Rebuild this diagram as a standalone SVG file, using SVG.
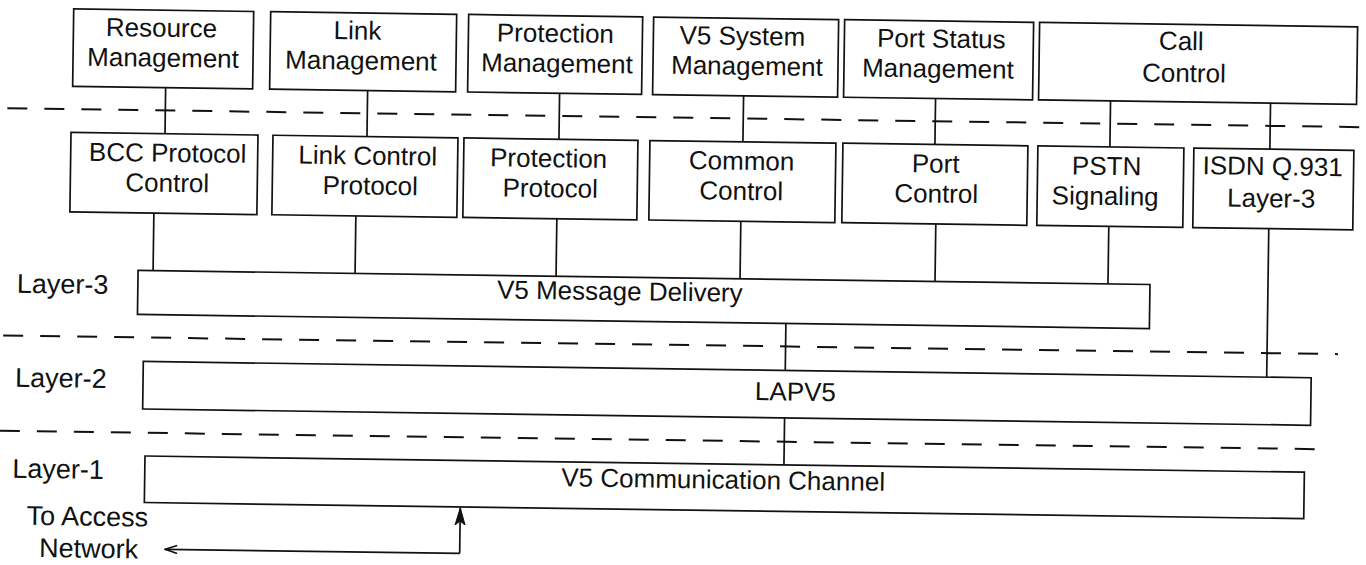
<svg xmlns="http://www.w3.org/2000/svg" width="1366" height="565" viewBox="0 0 1366 565">
  <defs>
    <style>
      .box { fill: #fff; stroke: #111; stroke-width: 1.7; }
      .lbl { font-family: "Liberation Sans", Arial, sans-serif; font-size: 26px; fill: #111; text-anchor: middle; }
      .side { font-family: "Liberation Sans", Arial, sans-serif; font-size: 27px; fill: #111; }
      .wire { stroke: #111; stroke-width: 1.7; fill: none; }
      .sep { stroke: #111; stroke-width: 2; stroke-dasharray: 20 17; fill: none; }
    </style>
    <marker id="arrow" viewBox="0 0 14 10" refX="13" refY="5" markerWidth="14" markerHeight="10" markerUnits="userSpaceOnUse" orient="auto">
      <path d="M1,1 L13,5 L1,9" fill="none" stroke="#111" stroke-width="1.7"/>
    </marker>
    <marker id="arrow-solid" viewBox="0 0 18 12" refX="17" refY="6" markerWidth="18" markerHeight="12" markerUnits="userSpaceOnUse" orient="auto">
      <path d="M0,1 L17,6 L0,11 L4,6 Z" fill="#111" stroke="#111" stroke-width="1"/>
    </marker>
  </defs>
  <rect width="1366" height="565" fill="#fff"/>

  <g transform="rotate(0.8 683 280)">
    <!-- layer separators -->
    <g id="separators">
      <line class="sep" x1="5" y1="117.7" x2="1366" y2="117.7"/>
      <line class="sep" x1="4" y1="345" x2="1339" y2="345"/>
      <line class="sep" x1="2" y1="440.3" x2="1334" y2="440.3"/>
    </g>

    <!-- connectors -->
    <g id="connectors">
      <line class="wire" x1="163" y1="95" x2="163" y2="141"/>
      <line class="wire" x1="365" y1="95" x2="365" y2="141"/>
      <line class="wire" x1="557" y1="95" x2="557" y2="141"/>
      <line class="wire" x1="741" y1="95" x2="741" y2="141"/>
      <line class="wire" x1="933" y1="95" x2="933" y2="141"/>
      <line class="wire" x1="1108" y1="95" x2="1108" y2="141"/>
      <line class="wire" x1="1268" y1="95" x2="1268" y2="141"/>

      <line class="wire" x1="153" y1="220.5" x2="153" y2="278"/>
      <line class="wire" x1="355" y1="220.5" x2="355" y2="278"/>
      <line class="wire" x1="556" y1="220.5" x2="556" y2="278"/>
      <line class="wire" x1="740" y1="220.5" x2="740" y2="278"/>
      <line class="wire" x1="935" y1="220.5" x2="935" y2="278"/>
      <line class="wire" x1="1108" y1="220.5" x2="1108" y2="278"/>
      <line class="wire" x1="1268" y1="220.5" x2="1268" y2="369"/>

      <line class="wire" x1="786.5" y1="322" x2="786.5" y2="369"/>
      <line class="wire" x1="786.5" y1="416.5" x2="786.5" y2="463.5"/>

      <polyline class="wire" points="463.5,556.5 463.5,511" marker-end="url(#arrow-solid)"/>
      <polyline class="wire" points="463.5,556.5 169,556.5" marker-end="url(#arrow)"/>
    </g>

    <!-- management functions -->
    <g id="resource-management">
      <rect class="box" x="70" y="17.5" width="180" height="77.5"/>
      <text class="lbl" x="158" y="44">Resource</text>
      <text class="lbl" x="160" y="74">Management</text>
    </g>
    <g id="link-management">
      <rect class="box" x="267" y="17.5" width="186" height="77.5"/>
      <text class="lbl" x="354" y="44">Link</text>
      <text class="lbl" x="358" y="74">Management</text>
    </g>
    <g id="protection-management">
      <rect class="box" x="465" y="17.5" width="174" height="77.5"/>
      <text class="lbl" x="552" y="44">Protection</text>
      <text class="lbl" x="554" y="74">Management</text>
    </g>
    <g id="v5-system-management">
      <rect class="box" x="650" y="17.5" width="185" height="77.5"/>
      <text class="lbl" x="739" y="44">V5 System</text>
      <text class="lbl" x="744" y="74">Management</text>
    </g>
    <g id="port-status-management">
      <rect class="box" x="841" y="17.5" width="189" height="77.5"/>
      <text class="lbl" x="938" y="44">Port Status</text>
      <text class="lbl" x="935" y="74">Management</text>
    </g>
    <g id="call-control">
      <rect class="box" x="1036" y="17.5" width="318" height="77.5"/>
      <text class="lbl" x="1178" y="43">Call</text>
      <text class="lbl" x="1181" y="75">Control</text>
    </g>

    <!-- layer-3 protocols -->
    <g id="bcc-protocol-control">
      <rect class="box" x="69" y="141" width="187" height="79.5"/>
      <text class="lbl" x="166" y="169">BCC Protocol</text>
      <text class="lbl" x="166" y="199">Control</text>
    </g>
    <g id="link-control-protocol">
      <rect class="box" x="271" y="141" width="185" height="79.5"/>
      <text class="lbl" x="366" y="169">Link Control</text>
      <text class="lbl" x="369" y="199">Protocol</text>
    </g>
    <g id="protection-protocol">
      <rect class="box" x="462" y="141" width="174" height="79.5"/>
      <text class="lbl" x="547" y="169">Protection</text>
      <text class="lbl" x="549" y="199">Protocol</text>
    </g>
    <g id="common-control">
      <rect class="box" x="648" y="141" width="186" height="79.5"/>
      <text class="lbl" x="740" y="169">Common</text>
      <text class="lbl" x="740" y="199">Control</text>
    </g>
    <g id="port-control">
      <rect class="box" x="841" y="141" width="185" height="79.5"/>
      <text class="lbl" x="934" y="169">Port</text>
      <text class="lbl" x="935" y="199">Control</text>
    </g>
    <g id="pstn-signaling">
      <rect class="box" x="1036" y="141" width="146" height="79.5"/>
      <text class="lbl" x="1105" y="169">PSTN</text>
      <text class="lbl" x="1104" y="199">Signaling</text>
    </g>
    <g id="isdn-q931">
      <rect class="box" x="1192" y="141" width="160" height="79.5"/>
      <text class="lbl" x="1271" y="167">ISDN Q.931</text>
      <text class="lbl" x="1270" y="199">Layer-3</text>
    </g>

    <!-- lower layers -->
    <g id="v5-message-delivery">
      <rect class="box" x="138" y="278" width="1012" height="44"/>
      <text class="lbl" x="620" y="301">V5 Message Delivery</text>
    </g>
    <g id="lapv5">
      <rect class="box" x="144.5" y="369" width="1168" height="47.5"/>
      <text class="lbl" x="797" y="399">LAPV5</text>
    </g>
    <g id="v5-communication-channel">
      <rect class="box" x="147.5" y="463.5" width="1159.5" height="46.5"/>
      <text class="lbl" x="726" y="488">V5 Communication Channel</text>
    </g>

    <!-- layer names and access network note -->
    <g id="labels">
      <text class="side" x="17" y="302">Layer-3</text>
      <text class="side" x="16.5" y="396">Layer-2</text>
      <text class="side" x="15" y="487">Layer-1</text>
      <text class="side" x="30" y="534">To Access</text>
      <text class="side" x="43" y="566">Network</text>
    </g>
  </g>
</svg>
